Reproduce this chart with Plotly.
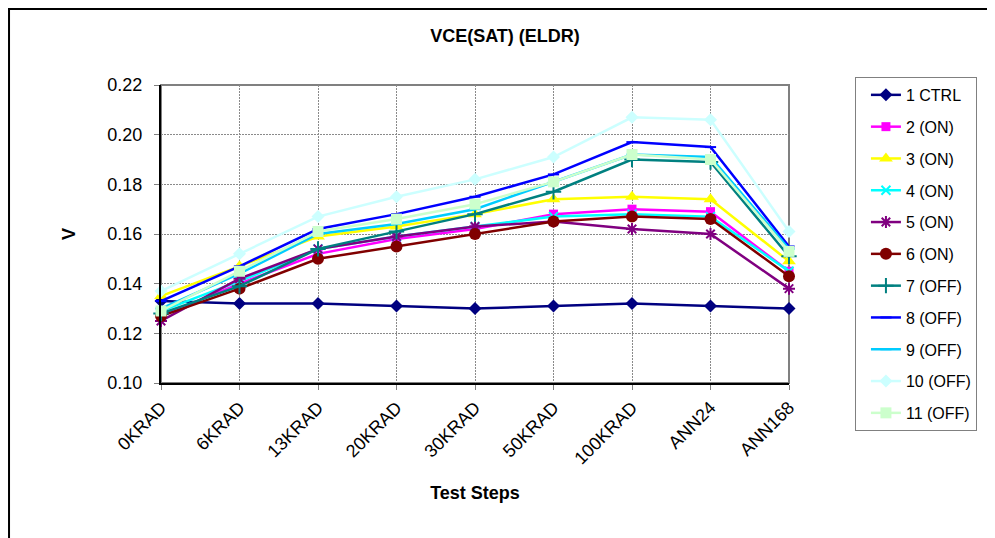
import plotly.graph_objects as go

# test steps (x categories)
steps = ["0KRAD", "6KRAD", "13KRAD", "20KRAD", "30KRAD", "50KRAD", "100KRAD", "ANN24", "ANN168"]

# VCE(SAT) readings per device, volts
s1_ctrl = [0.133, 0.132, 0.132, 0.131, 0.130, 0.131, 0.132, 0.131, 0.130]
s2_on = [0.127, 0.140, 0.152, 0.158, 0.162, 0.168, 0.170, 0.169, 0.145]
s3_on = [0.135, 0.147, 0.159, 0.163, 0.168, 0.174, 0.175, 0.174, 0.149]
s4_on = [0.129, 0.141, 0.154, 0.159, 0.163, 0.167, 0.168, 0.167, 0.145]
s5_on = [0.125, 0.142, 0.154, 0.159, 0.163, 0.165, 0.162, 0.160, 0.138]
s6_on = [0.127, 0.138, 0.150, 0.155, 0.160, 0.165, 0.167, 0.166, 0.143]
s7_off = [0.128, 0.139, 0.154, 0.161, 0.168, 0.177, 0.190, 0.189, 0.151]
s8_off = [0.133, 0.147, 0.162, 0.168, 0.175, 0.184, 0.197, 0.195, 0.155]
s9_off = [0.130, 0.144, 0.160, 0.164, 0.170, 0.181, 0.192, 0.191, 0.154]
s10_off = [0.137, 0.152, 0.167, 0.175, 0.182, 0.191, 0.207, 0.206, 0.161]
s11_off = [0.129, 0.145, 0.161, 0.166, 0.172, 0.181, 0.192, 0.190, 0.153]

y_ticks = [0.10, 0.12, 0.14, 0.16, 0.18, 0.20, 0.22]

font = "Liberation Sans, Arial, sans-serif"

# name, values, color, marker symbol, marker size
series = [
    ("1 CTRL", s1_ctrl, "#000080", "diamond", 10),
    ("2 (ON)", s2_on, "#FF00FF", "square", 9),
    ("3 (ON)", s3_on, "#FFFF00", "triangle-up", 12),
    ("4 (ON)", s4_on, "#00FFFF", "x-thin-open", 9),
    ("5 (ON)", s5_on, "#800080", "asterisk-open", 10),
    ("6 (ON)", s6_on, "#800000", "circle", 12),
    ("7 (OFF)", s7_off, "#008080", "cross-thin-open", 11),
    ("8 (OFF)", s8_off, "#0000FF", "line-ew-open", 8),
    ("9 (OFF)", s9_off, "#00CCFF", "line-ew-open", 8),
    ("10 (OFF)", s10_off, "#CCFFFF", "diamond", 10),
    ("11 (OFF)", s11_off, "#CCFFCC", "square", 11),
]

fig = go.Figure()

for i, (name, vals, color, symbol, size) in enumerate(series):
    open_sym = symbol.endswith("open")
    fig.add_trace(go.Scatter(
        x=steps, y=vals,
        mode="lines+markers",
        name=name,
        legendgroup=f"g{i}",
        cliponaxis=False,
        line=dict(color=color, width=2.5),
        marker=dict(
            symbol=symbol, size=size, color=color,
            line=dict(color=color, width=2 if open_sym else 0),
        ),
    ))

# outer chart frame (right/bottom run off the page)
fig.add_shape(type="rect", xref="paper", yref="paper",
              x0=-0.2420, x1=1.4, y0=-0.6, y1=1.255,
              line=dict(color="black", width=2), layer="below")
# plot area border (grey)
fig.add_shape(type="rect", xref="paper", yref="paper",
              x0=0, x1=1, y0=0, y1=1,
              line=dict(color="#808080", width=2), layer="below")

# page body adds an 8px margin, so the figure is 8px smaller than the window
fig.update_layout(
    width=987, height=530,
    margin=dict(l=153, r=206, t=77, b=155),
    plot_bgcolor="white",
    paper_bgcolor="white",
    font=dict(family=font, size=18, color="black"),
    title=dict(
        text="<b>VCE(SAT) (ELDR)</b>",
        x=497 / 987, xanchor="center",
        y=1 - 28 / 530, yanchor="middle",
        font=dict(size=18, family=font, color="black"),
    ),
    legend=dict(
        x=1.105, xanchor="left",
        y=1.027, yanchor="top",
        maxheight=420,
        traceorder="grouped",
        tracegroupgap=8,
        indentation=10,
        entrywidth=135,
        bordercolor="#808080", borderwidth=1,
        bgcolor="white",
        font=dict(size=16, family=font),
    ),
)

fig.update_xaxes(
    type="category",
    range=[0, 8],
    showgrid=True, gridcolor="#8a8a8a", griddash="2px,1px", gridwidth=1,
    showline=True, linecolor="black", linewidth=2,
    ticks="outside", ticklen=5, tickcolor="#808080",
    tickangle=-45,
    tickfont=dict(size=18),
    title=dict(text="<b>Test Steps</b>", font=dict(size=18), standoff=19),
)

fig.update_yaxes(
    range=[0.10, 0.22],
    tickvals=y_ticks,
    tickformat=".2f",
    showgrid=True, gridcolor="#8a8a8a", griddash="2px,1px", gridwidth=1,
    showline=True, linecolor="black", linewidth=2,
    ticks="outside", ticklen=5, tickcolor="#808080",
    ticklabelstandoff=8,
    tickfont=dict(size=18),
    zeroline=False,
    title=dict(text="<b>V</b>", font=dict(size=18), standoff=27),
)

fig.write_html("out.html")
